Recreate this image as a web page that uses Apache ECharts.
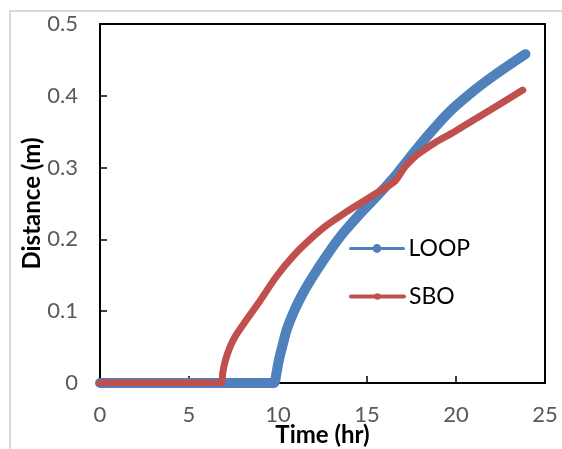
<!DOCTYPE html>
<html>
<head>
<meta charset="utf-8">
<title>Distance vs Time</title>
<script src="https://cdn.jsdelivr.net/npm/echarts@6/dist/echarts.min.js"></script>
<style>
  html, body { margin: 0; padding: 0; background: #fff; }
  #wrap { position: relative; width: 562px; height: 449px; overflow: hidden; background: #fff; }
  #frame { position: absolute; left: 9px; top: 10px; width: 600px; height: 500px;
           border-left: 2px solid #d9d9d9; border-top: 2px solid #d9d9d9; }
  #chart { position: absolute; left: 0; top: 0; width: 562px; height: 449px; }
</style>
</head>
<body>
<div id="wrap">
  <div id="frame"></div>
  <div id="chart"></div>
</div>
<script>
// Time (hr) and travelled distance (m) for each scenario
const loopTime = [0, 9.75, 9.9, 10.05, 10.25, 10.5, 10.9, 11.4, 12.0, 12.8, 13.7, 14.7, 15.7, 16.7, 17.6, 18.5, 19.6, 20.8, 21.9, 23.0, 23.9];
const loopDist = [0, 0, 0.012, 0.032, 0.052, 0.075, 0.100, 0.125, 0.150, 0.180, 0.210, 0.238, 0.264, 0.292, 0.320, 0.347, 0.377, 0.403, 0.424, 0.443, 0.458];

const sboTime = [0, 6.8, 6.9, 7.05, 7.3, 7.6, 8.2, 9.0, 9.9, 10.9, 11.8, 12.7, 13.7, 14.6, 15.5, 16.1, 16.6, 17.1, 17.6, 18.0, 18.9, 19.7, 20.5, 21.9, 23.75];
const sboDist = [0, 0, 0.015, 0.032, 0.050, 0.065, 0.087, 0.115, 0.148, 0.178, 0.200, 0.219, 0.236, 0.250, 0.264, 0.273, 0.282, 0.300, 0.313, 0.321, 0.336, 0.347, 0.359, 0.380, 0.408];

const seriesNames = ['LOOP', 'SBO'];
const xTicks = { min: 0, max: 25, step: 5 };
const yTicks = { min: 0, max: 0.5, step: 0.1 };

const pairs = (xs, ys) => xs.map((x, i) => [x, ys[i]]);

const FONT = 'Lato, "Liberation Sans", sans-serif';
const BLUE = '#4F81BD';
const RED = '#C0504D';

const chart = echarts.init(document.getElementById('chart'), null, { renderer: 'canvas' });

chart.setOption({
  animation: false,
  backgroundColor: 'transparent',
  grid: {
    left: 100, top: 24, right: 17, bottom: 66,
    outerBoundsMode: 'none',
    containLabel: false,
    show: true, borderColor: '#000', borderWidth: 2
  },
  legend: [
    {
      data: [seriesNames[0]],
      left: 349, top: 237,
      padding: 0,
      itemWidth: 53, itemHeight: 11,
      selectedMode: false,
      lineStyle: { width: 3 },
      textStyle: { fontFamily: FONT, fontSize: 23, color: '#000' }
    },
    {
      data: [seriesNames[1]],
      left: 349, top: 285,
      padding: 0,
      itemWidth: 53, itemHeight: 8,
      selectedMode: false,
      lineStyle: { width: 4 },
      textStyle: { fontFamily: FONT, fontSize: 23, color: '#000' }
    }
  ],
  xAxis: {
    type: 'value',
    min: xTicks.min, max: xTicks.max, interval: xTicks.step,
    name: 'Time (hr)',
    nameLocation: 'middle',
    nameGap: 40,
    nameMoveOverlap: false,
    nameTextStyle: { fontFamily: FONT, fontSize: 24, fontWeight: 'bold', color: '#000' },
    axisLine: { lineStyle: { color: '#000', width: 2 } },
    axisTick: { inside: true, length: 7, lineStyle: { color: '#000', width: 1.5 } },
    axisLabel: { fontFamily: FONT, fontSize: 22, color: '#595959', margin: 21 },
    splitLine: { show: false }
  },
  yAxis: {
    type: 'value',
    min: yTicks.min, max: yTicks.max, interval: yTicks.step,
    name: 'Distance (m)',
    nameLocation: 'middle',
    nameGap: 56,
    nameMoveOverlap: false,
    nameTextStyle: { fontFamily: FONT, fontSize: 24, fontWeight: 'bold', color: '#000' },
    axisLine: { lineStyle: { color: '#000', width: 2 } },
    axisTick: { inside: true, length: 7, lineStyle: { color: '#000', width: 1.5 } },
    axisLabel: { fontFamily: FONT, fontSize: 22, color: '#595959', margin: 22 },
    splitLine: { show: false }
  },
  series: [
    {
      name: seriesNames[0],
      type: 'line',
      data: pairs(loopTime, loopDist),
      smooth: 0.25,
      symbol: 'circle',
      showSymbol: false,
      color: BLUE,
      lineStyle: { color: BLUE, width: 10, cap: 'round', join: 'round' },
      z: 2
    },
    {
      name: seriesNames[1],
      type: 'line',
      data: pairs(sboTime, sboDist),
      smooth: 0.25,
      symbol: 'circle',
      showSymbol: false,
      color: RED,
      lineStyle: { color: RED, width: 7, cap: 'round', join: 'round' },
      z: 3
    }
  ]
});
</script>
</body>
</html>
